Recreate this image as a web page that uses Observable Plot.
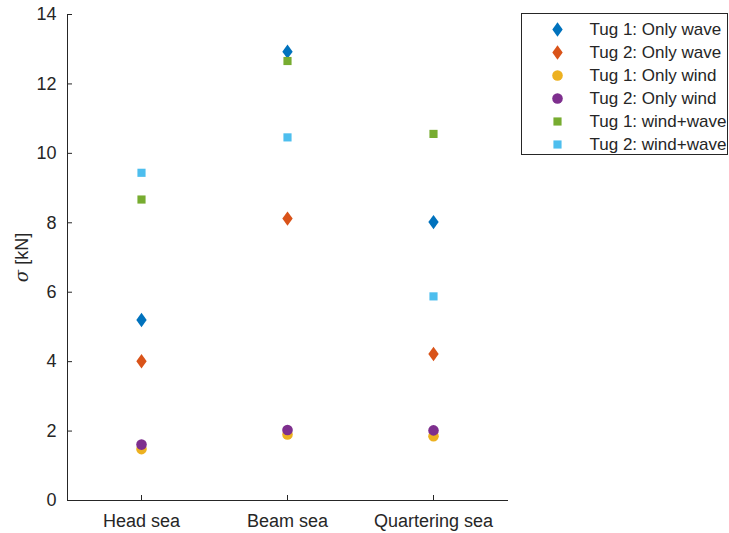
<!DOCTYPE html>
<html><head><meta charset="utf-8">
<script src="https://cdn.jsdelivr.net/npm/d3@7"></script>
<script src="https://cdn.jsdelivr.net/npm/@observablehq/plot@0.6"></script>
<style>
body{margin:0;background:#fff;}
#wrap{position:relative;width:729px;height:533px;font-family:"Liberation Sans",Arial,sans-serif;}
#legend{position:absolute;left:521px;top:13px;width:207px;height:142px;border:1px solid #262626;box-sizing:border-box;background:#fff;overflow:hidden}
#chart{position:absolute;left:0;top:0}
</style></head><body><div id="wrap"><div id="chart"></div><div id="legend"></div></div>
<script>
const categories = ["Head sea", "Beam sea", "Quartering sea"];
const seriesNames = ["Tug 1: Only wave", "Tug 2: Only wave", "Tug 1: Only wind", "Tug 2: Only wind", "Tug 1: wind+wave", "Tug 2: wind+wave"];
const tug1Wave = [5.20, 12.93, 8.02];
const tug2Wave = [4.01, 8.12, 4.22];
const tug1Wind = [1.48, 1.90, 1.85];
const tug2Wind = [1.61, 2.03, 2.02];
const tug1WindWave = [8.67, 12.66, 10.56];
const tug2WindWave = [9.44, 10.46, 5.88];
const yTicks = [0, 2, 4, 6, 8, 10, 12, 14];

const seriesValues = [tug1Wave, tug2Wave, tug1Wind, tug2Wind, tug1WindWave, tug2WindWave];
const colors = ["#0072BD", "#D95319", "#EDB120", "#7E2F8E", "#77AC30", "#4DBEEE"];
// MATLAB-like wider diamond
const wideDiamond = {
  draw(context, size) {
    const h = Math.sqrt(size / 1.4); // half height
    const w = h * 0.72;
    context.moveTo(0, -h);
    context.lineTo(w, 0);
    context.lineTo(0, h);
    context.lineTo(-w, 0);
    context.closePath();
  }
};
const symbols = [wideDiamond, wideDiamond, "circle", "circle", "square", "square"];
const radii = [4.8, 4.8, 5.3, 5.3, 4.6, 4.6];

const data = seriesNames.flatMap((s, i) => categories.map((c, j) => ({series: s, cat: c, value: seriesValues[i][j]})));

const font = '"Liberation Sans", Arial, sans-serif';
const ink = "#262626";

const chart = Plot.plot({
  width: 729, height: 533,
  marginLeft: 67, marginRight: 222, marginTop: 14, marginBottom: 33,
  style: {fontFamily: font, fontSize: "18px", color: ink, background: "transparent"},
  x: {type: "point", domain: categories, padding: 0.5},
  y: {domain: [0, 14]},
  marks: [
    Plot.frame({anchor: "left", stroke: ink}),
    Plot.frame({anchor: "bottom", stroke: ink}),
    Plot.axisX({tickSize: -5, tickPadding: 19, label: null, stroke: ink, fill: ink}),
    Plot.axisY({ticks: yTicks, tickSize: -5, tickPadding: 16, label: null, stroke: ink, fill: ink}),
    Plot.text(["σ [kN]"], {frameAnchor: "left", textAnchor: "middle", dx: -45, rotate: -90, text: d => d, fontSize: 18, fill: ink}),
    ...seriesNames.map((s, i) => Plot.dot(data.filter(d => d.series === s), {
      x: "cat", y: "value", symbol: symbols[i], fill: colors[i], r: radii[i], stroke: "none"
    }))
  ]
});
document.getElementById("chart").appendChild(chart);
// italic sigma
chart.querySelectorAll("text").forEach(t => {
  if (t.textContent === "σ [kN]") {
    t.textContent = "";
    const a = document.createElementNS("http://www.w3.org/2000/svg", "tspan");
    a.setAttribute("font-style", "italic");
    a.setAttribute("font-family", "'DejaVu Serif', serif");
    a.textContent = "σ";
    const b = document.createElementNS("http://www.w3.org/2000/svg", "tspan");
    b.textContent = " [kN]";
    t.appendChild(a); t.appendChild(b);
  }
});

const legend = Plot.plot({
  width: 205, height: 140,
  margin: 0,
  style: {fontFamily: font, fontSize: "17px", color: ink, background: "transparent"},
  y: {type: "point", domain: seriesNames, range: [15, 130], padding: 0, axis: null},
  marks: [
    ...seriesNames.map((s, i) => Plot.dot([s], {y: d => d, frameAnchor: "left", dx: 35, symbol: symbols[i], fill: colors[i], r: radii[i], stroke: "none"})),
    Plot.text(seriesNames, {y: d => d, frameAnchor: "left", dx: 67, text: d => d, textAnchor: "start", fill: ink, fontSize: 17})
  ]
});
document.getElementById("legend").appendChild(legend);
</script></body></html>
